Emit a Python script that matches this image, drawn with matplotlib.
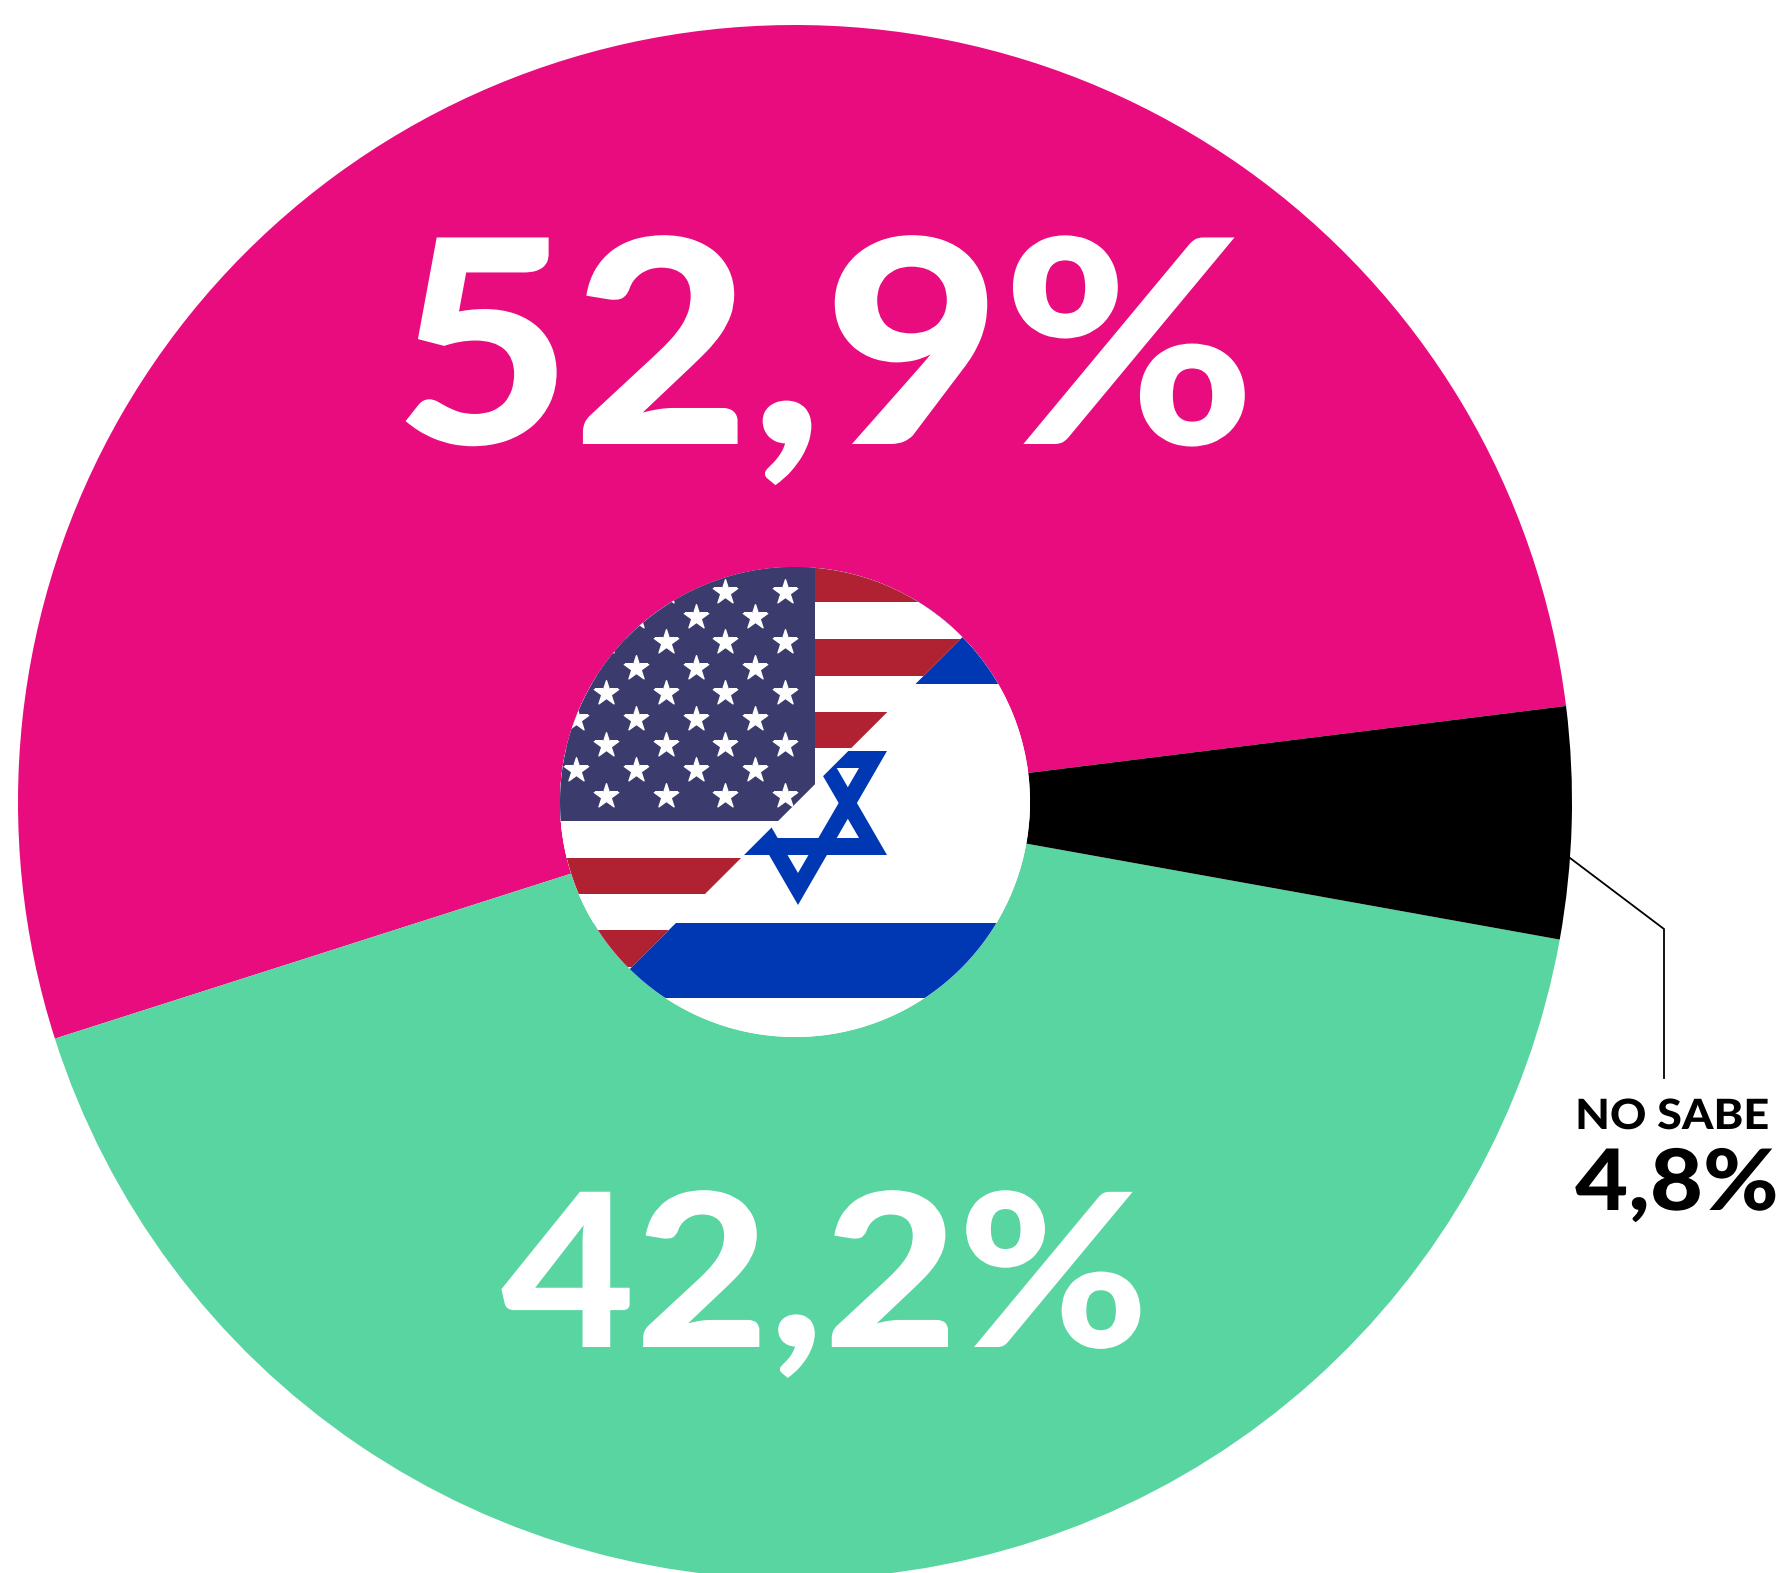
import matplotlib

matplotlib.use("Agg")
import matplotlib.pyplot as plt
import matplotlib.patheffects as pe
import numpy as np
from matplotlib.path import Path
from matplotlib.patches import PathPatch, Polygon, Rectangle
from matplotlib.transforms import Affine2D

W, H = 1785, 1573
plt.rcParams["font.family"] = ["Lato", "DejaVu Sans"]

# pie values
labels = ["52,9%", "42,2%", "4,8%"]
values = [52.9, 42.2, 4.8]
colors = ["#E90C7E", "#58D5A0", "#000000"]
START = 7.1

CX, CY, R = 795, 802, 777
HOLE_R = 235

# flag layout, in image pixels
RED = "#B02131"
NAVY = "#3C3B6E"
BLUE = "#0038B4"
us_red_stripes = [(560, 602), (639, 676), (712, 748), (858, 894), (930, 967)]
il_blue_stripes = [(550, 684), (923, 998)]
canton_right, canton_bottom = 815, 821
star_rows_a = [592, 642, 693, 745, 796]
star_cols_a = [785, 725, 666, 606, 546]
star_rows_b = [617, 668, 719, 770]
star_cols_b = [755, 696, 636, 576]
DIAG = 1600  # x + y of the diagonal where the flags meet


class Widen(pe.AbstractPathEffect):
    """Lato runs narrower than the original face, so stretch glyphs about x."""

    def __init__(self, x, sx=1.08):
        super().__init__()
        self.x, self.sx = x, sx

    def draw_path(self, renderer, gc, tpath, affine, rgbFace=None):
        stretch = Affine2D().translate(-self.x, 0).scale(self.sx, 1).translate(self.x, 0)
        renderer.draw_path(gc, tpath, affine + stretch, rgbFace)


fig = plt.figure(figsize=(W / 100, H / 100), dpi=100, facecolor="white")

# --- donut -----------------------------------------------------------------
ax = fig.add_axes([0, 0, 1, 1])
ax.pie(values, colors=colors, startangle=START, center=(CX, H - CY), radius=R,
       wedgeprops={"width": R - HOLE_R, "linewidth": 0})
ax.set_xlim(0, W)
ax.set_ylim(0, H)
ax.set_aspect("equal")
ax.axis("off")

# --- overlay in image coordinates ------------------------------------------
top = fig.add_axes([0, 0, 1, 1], facecolor="none")
top.set_xlim(0, W)
top.set_ylim(H, 0)
top.axis("off")

t = np.linspace(0, 2 * np.pi, 720)
circle = np.column_stack([CX + HOLE_R * np.cos(t), CY + HOLE_R * np.sin(t)])
il_clip = Polygon(circle, closed=True, transform=top.transData)
us_clip = Polygon(circle[circle.sum(axis=1) < DIAG], closed=True, transform=top.transData)

# Israel underneath, whole circle
top.add_patch(Polygon(circle, closed=True, fc="white", ec="none"))
for y0, y1 in il_blue_stripes:
    r = Rectangle((500, y0), 600, y1 - y0, fc=BLUE, ec="none")
    top.add_patch(r)
    r.set_clip_path(il_clip)


def triangle(cx, base_y, half, height):
    return [(cx - half, base_y), (cx + half, base_y), (cx, base_y + height)]


star_x = 798
down_o = triangle(star_x, 751, 89, 154)
down_i = triangle(star_x, 768, 61, 105)[::-1]
up_o = triangle(star_x, 855, 89, -154)
up_i = triangle(star_x, 838, 61, -105)[::-1]
for outer, inner in [(down_o, down_i), (up_o, up_i)]:
    verts = outer + [outer[0]] + inner + [inner[0]]
    codes = [Path.MOVETO, Path.LINETO, Path.LINETO, Path.CLOSEPOLY] * 2
    top.add_patch(PathPatch(Path(verts, codes), fc=BLUE, ec="none"))

# USA on top, cut along the diagonal
us_parts = [Rectangle((500, 550), 600, 450, fc="white", ec="none")]
us_parts += [Rectangle((500, y0), 600, y1 - y0, fc=RED, ec="none") for y0, y1 in us_red_stripes]
us_parts.append(Rectangle((500, 550), canton_right - 500, canton_bottom - 550, fc=NAVY, ec="none"))
for p in us_parts:
    top.add_patch(p)
    p.set_clip_path(us_clip)

for rows, cols in [(star_rows_a, star_cols_a), (star_rows_b, star_cols_b)]:
    xs, ys = np.meshgrid(cols, rows)
    sc = top.scatter(xs.ravel(), ys.ravel(), marker="*", s=340, c="white",
                     edgecolors="white", linewidths=1.0, zorder=3)
    sc.set_clip_path(us_clip)

# --- labels ----------------------------------------------------------------
top.text(825, 444, labels[0], color="white", fontsize=205, fontweight="black",
         ha="center", va="baseline", path_effects=[Widen(825)])
top.text(825, 1347, labels[1], color="white", fontsize=154, fontweight="black",
         ha="center", va="baseline", path_effects=[Widen(825)])

leader_x = [1570, 1664, 1664]
leader_y = [858, 929, 1078]
top.plot(leader_x, leader_y, color="black", lw=1.3, solid_joinstyle="miter")
top.text(1672, 1129, "NO SABE", color="black", fontsize=30, fontweight="black",
         ha="center", va="baseline", path_effects=[Widen(1672)])
top.text(1677, 1210, labels[2], color="black", fontsize=61, fontweight="black",
         ha="center", va="baseline", path_effects=[Widen(1677)])

fig.savefig("out.png", dpi=100)
plt.close(fig)
